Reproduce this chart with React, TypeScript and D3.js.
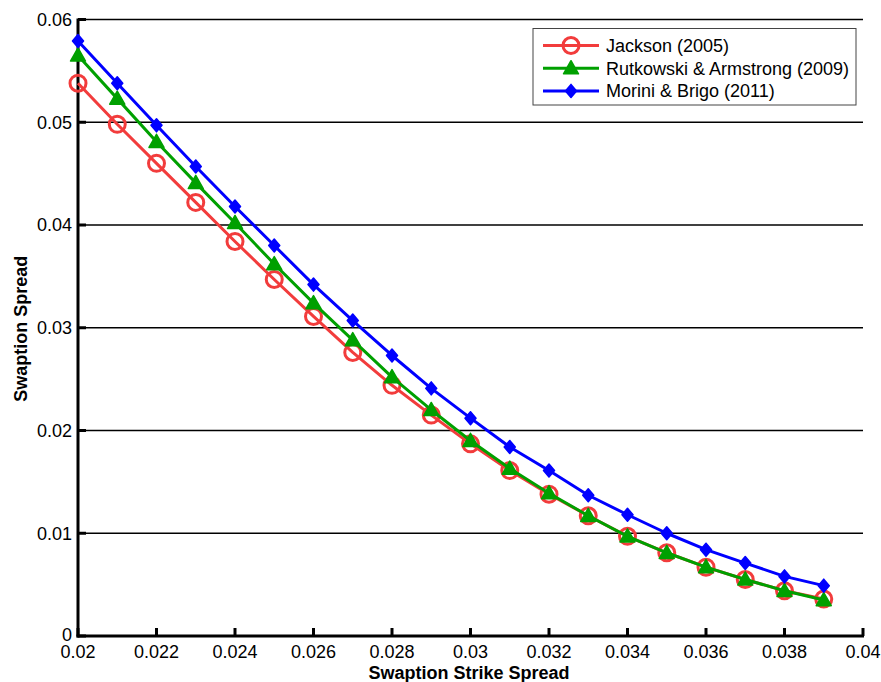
import React from "react";
import * as d3 from "d3";

const strikes = [0.020,0.021,0.022,0.023,0.024,0.025,0.026,0.027,0.028,0.029,0.030,0.031,0.032,0.033,0.034,0.035,0.036,0.037,0.038,0.039];
const jackson = [0.0538,0.0498,0.0460,0.0422,0.0384,0.0347,0.0311,0.0276,0.0244,0.0215,0.0187,0.0161,0.0138,0.0117,0.0097,0.0081,0.0067,0.0055,0.0044,0.0036];
const rutkowski = [0.0565,0.0523,0.0481,0.0441,0.0402,0.0362,0.0324,0.0288,0.0252,0.0220,0.0190,0.0163,0.0139,0.0117,0.0097,0.0081,0.0067,0.0055,0.0044,0.0035];
const morini = [0.0579,0.0538,0.0497,0.0457,0.0418,0.0380,0.0342,0.0307,0.0273,0.0241,0.0212,0.0184,0.0161,0.0137,0.0118,0.0100,0.0084,0.0071,0.0058,0.0049];
const xTicks = [0.02,0.022,0.024,0.026,0.028,0.03,0.032,0.034,0.036,0.038,0.04];
const xTickLabels = ["0.02","0.022","0.024","0.026","0.028","0.03","0.032","0.034","0.036","0.038","0.04"];
const yTicks = [0,0.01,0.02,0.03,0.04,0.05,0.06];
const yTickLabels = ["0","0.01","0.02","0.03","0.04","0.05","0.06"];
const seriesNames = ["Jackson (2005)","Rutkowski & Armstrong (2009)","Morini & Brigo (2011)"];
const seriesColors = ["#f23c3c","#00a000","#0000ff"];

const W = 881, H = 682;
const left = 78, right = 863, top = 19.5, bottom = 636;
const font = "'Liberation Sans', Arial, sans-serif";

function Marker({ kind, x, y, color }: { kind: number; x: number; y: number; color: string }) {
  if (kind === 0) return <circle cx={x} cy={y} r={8} fill="none" stroke={color} strokeWidth={3} />;
  if (kind === 1) {
    const s = 7.5;
    const pts = `${x},${y - s} ${x + s},${y + s * 0.75} ${x - s},${y + s * 0.75}`;
    return <polygon points={pts} fill={color} stroke={color} strokeWidth={1.5} strokeLinejoin="round" />;
  }
  const s = 6.5;
  const pts = `${x},${y - s} ${x + s * 0.85},${y} ${x},${y + s} ${x - s * 0.85},${y}`;
  return <polygon points={pts} fill={color} stroke={color} strokeWidth={1.5} strokeLinejoin="round" />;
}

export default function App() {
  const x = d3.scaleLinear().domain([0.02, 0.04]).range([left, right]);
  const y = d3.scaleLinear().domain([0, 0.06]).range([bottom, top]);
  const all = [jackson, rutkowski, morini];
  const line = d3.line<number>().x((_, i) => x(strikes[i])).y((d) => y(d));

  return (
    <svg width={W} height={H} style={{ position: "absolute", left: 0, top: 0, background: "#fff" }}>
      <rect x={0} y={0} width={W} height={H} fill="#fff" />
      {yTicks.slice(1).map((t) => (
        <line key={"g" + t} x1={left} x2={right} y1={y(t)} y2={y(t)} stroke="#000" strokeWidth={1.5} />
      ))}
      {yTicks.map((t, i) => (
        <g key={"y" + t}>
          <line x1={left} x2={left + 8} y1={y(t)} y2={y(t)} stroke="#000" strokeWidth={3} />
          <text x={72} y={y(t) - (t === 0 ? 1.5 : 0)} dy="0.36em" textAnchor="end" fontFamily={font} fontSize={18} fill="#000">
            {yTickLabels[i]}
          </text>
        </g>
      ))}
      {xTicks.map((t, i) => (
        <g key={"x" + t}>
          <line x1={x(t)} x2={x(t)} y1={bottom} y2={bottom - 8} stroke="#000" strokeWidth={3} />
          <text x={x(t)} y={658} textAnchor="middle" fontFamily={font} fontSize={18} fill="#000">
            {xTickLabels[i]}
          </text>
        </g>
      ))}
      <line x1={left} x2={left} y1={top - 1} y2={bottom + 1.5} stroke="#000" strokeWidth={3} />
      <line x1={left - 1.5} x2={right + 1} y1={bottom} y2={bottom} stroke="#000" strokeWidth={3} />
      {all.map((vals, k) => (
        <g key={"s" + k}>
          <path d={line(vals) || ""} fill="none" stroke={seriesColors[k]} strokeWidth={3} strokeLinejoin="round" />
          {vals.map((v, i) => (
            <Marker key={i} kind={k} x={x(strikes[i])} y={y(v)} color={seriesColors[k]} />
          ))}
        </g>
      ))}
      <rect x={533} y={28.5} width={323} height={76.5} fill="#fff" stroke="#444" strokeWidth={1} />
      {seriesNames.map((n, k) => {
        const cy = 45.5 + k * 22.7;
        return (
          <g key={"l" + k}>
            <line x1={543} x2={599} y1={cy} y2={cy} stroke={seriesColors[k]} strokeWidth={3} />
            <Marker kind={k} x={571} y={cy} color={seriesColors[k]} />
            <text x={606} y={cy} dy="0.36em" fontFamily={font} fontSize={18} fill="#000">
              {n}
            </text>
          </g>
        );
      })}
      <text x={469} y={679} textAnchor="middle" fontFamily={font} fontSize={18} fontWeight="bold" fill="#000">
        Swaption Strike Spread
      </text>
      <text transform={`translate(27,${(top + bottom) / 2 + 1}) rotate(-90)`} textAnchor="middle" fontFamily={font} fontSize={18} fontWeight="bold" fill="#000">
        Swaption Spread
      </text>
    </svg>
  );
}
